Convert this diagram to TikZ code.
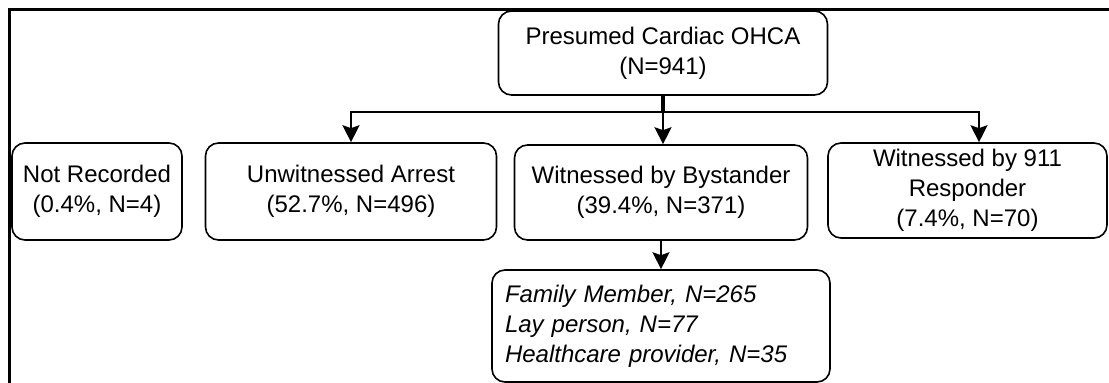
\documentclass[tikz,border=0pt]{standalone}
\usepackage{fontspec}
\setmainfont{Liberation Sans}
\usetikzlibrary{arrows.meta}
\begin{document}
\begin{tikzpicture}[x=1pt,y=-1pt,
  box/.style={draw, line width=1.6pt, rounded corners=13pt, align=center, inner sep=0pt,
    font=\fontsize{24}{30}\selectfont},
  conn/.style={line width=1.6pt, -{Stealth[length=17pt,width=17pt,inset=3pt]}},
  stem/.style={line width=3.5pt}]
\useasboundingbox (0,0) rectangle (1109,383);
\draw[line width=3pt] (9,383) -- (9,9) -- (1109,9);
\node[box, minimum width=329pt, minimum height=84pt] (top) at (663,53) {Presumed Cardiac OHCA\\(N=941)};
\node[box, minimum width=170pt, minimum height=97pt] (nr) at (97,191.5) {Not Recorded\\(0.4\%, N=4)};
\node[box, minimum width=291pt, minimum height=97pt] (unw) at (351,191.5) {Unwitnessed Arrest\\(52.7\%, N=496)};
\node[box, minimum width=293pt, minimum height=95pt] (bys) at (661,192.5) {Witnessed by Bystander\\(39.4\%, N=371)};
\node[box, minimum width=279pt, minimum height=95pt] (resp) at (967.5,190.5) {Witnessed by 911\\Responder\\(7.4\%, N=70)};
\node[box, align=left, inner xsep=13pt, text width=312pt, minimum height=112pt,
  font=\fontsize{24}{30}\selectfont\itshape] (sub) at (661,326)
  {Family Member, N=265\\Lay person, N=77\\Healthcare provider, N=35};
\coordinate (hl) at (0,112);
\coordinate (rt) at (979,0);
\draw[stem] (top.south) -- (top.south |- hl);
\draw[conn] (top.south |- hl) -| (unw.north);
\draw[conn] (top.south |- hl) -- (top.south |- bys.north);
\draw[conn] (top.south |- hl) -| (rt |- resp.north);
\draw[conn] (bys.south) -- (bys.south |- sub.north);
\end{tikzpicture}
\end{document}
